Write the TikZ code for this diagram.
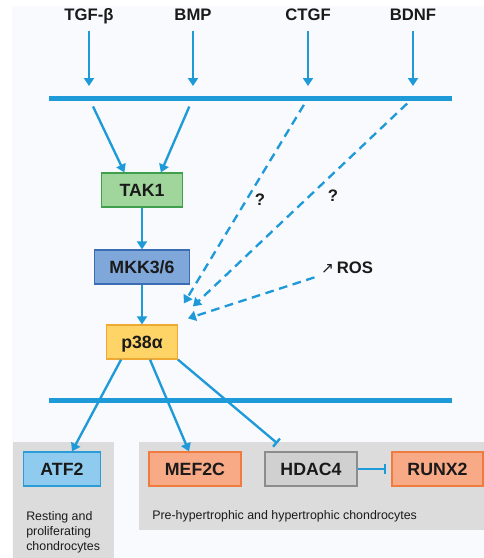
\documentclass[tikz,border=0pt]{standalone}
\usepackage{fontspec}
\setmainfont{Liberation Sans}
\newfontfamily\dejavu{DejaVu Sans}
\usepackage{tikz}
\usetikzlibrary{positioning}
\usetikzlibrary{calc}
\usetikzlibrary{arrows.meta}
\usepackage{xcolor}

\definecolor{sig}{HTML}{1E9AD8}
\definecolor{bgc}{HTML}{F9FAFD}
\definecolor{zone}{HTML}{DCDCDC}
\definecolor{ink}{HTML}{1A1A1A}
\definecolor{takf}{HTML}{A0D59C}
\definecolor{takd}{HTML}{3F9F4C}
\definecolor{mkkf}{HTML}{80A7DA}
\definecolor{mkkd}{HTML}{3A6DB3}
\definecolor{p38f}{HTML}{FFD466}
\definecolor{p38d}{HTML}{EFA832}
\definecolor{atff}{HTML}{8FCBEF}
\definecolor{atfd}{HTML}{2B9CD8}
\definecolor{oraf}{HTML}{F8A985}
\definecolor{orad}{HTML}{EF7B3F}
\definecolor{hdaf}{HTML}{D0D0D0}
\definecolor{hdad}{HTML}{8C8C8C}

\begin{document}
\begin{tikzpicture}[x=0.75pt, y=-0.75pt,
        lbl/.style={text=ink, font=\bfseries\fontsize{12.5}{15}\selectfont, text height=9pt, text depth=2.5pt},
        box/.style={draw, line width=0.9pt, minimum height=25.5pt, inner sep=0pt, text=ink,
            text height=9.5pt, text depth=0pt, font=\bfseries\fontsize{13.3}{15}\selectfont},
        note/.style={text=ink, font=\fontsize{9.3}{11.25}\selectfont, align=left, inner sep=0pt, anchor=north west},
        act/.style={sig, line width=1.75pt, -{Triangle[length=6pt,width=7.5pt]}},
        dsh/.style={act, dash pattern=on 6.5pt off 4.2pt},
        inh/.style={sig, line width=1.75pt, -{Bar[width=8pt,line width=1.75pt]}},
        bar/.style={sig, line width=3.75pt}]
        \useasboundingbox (0,0) rectangle (484,558);
        \fill[bgc] (12,6) rectangle (484,558);
        \fill[zone] (13,442) rectangle (114,558);
        \fill[zone] (139,442) rectangle (484,530);

        \node[lbl] (tgf) at (89,16) {TGF-β};
        \node[lbl] (bmp) at (193,16) {BMP};
        \node[lbl] (ctgf) at (308,16) {CTGF};
        \node[lbl] (bdnf) at (413,16) {BDNF};

        \coordinate (in) at (0,86);
        \coordinate (m1) at (49,98);
        \coordinate (m2) at (452,98);
        \coordinate (n1) at (49,400);
        \coordinate (n2) at (452,400);

        \foreach \s in {tgf,bmp,ctgf,bdnf}
            \draw[act, shorten <=2pt] (\s) -- (\s |- in);
        \draw[bar] (m1) -- (m2);

        \node[box, fill=takf, draw=takd, minimum width=61pt] (tak) at (142,190) {TAK1};
        \node[box, fill=mkkf, draw=mkkd, minimum width=71.5pt] (mkk) at (142,267) {MKK3/6};
        \node[box, fill=p38f, draw=p38d, minimum width=53pt] (p38) at (142,342) {p38α};

        \node[lbl] (q1) at (260,201) {?};
        \node[lbl] (q2) at (333,197) {?};
        \node[lbl] (ros) at (347,269) {{\dejavu\mdseries\fontsize{11.5}{12}\selectfont ↗}\,ROS};

        \draw[act, shorten <=7pt] (tgf |- m1) -- (tak.135);
        \draw[act, shorten <=7pt] (bmp |- m1) -- (tak.43);
        \draw[act] (tak) -- (mkk);
        \draw[act] (mkk) -- (p38);
        \draw[dsh, shorten <=6pt] (ctgf |- m1) -- ($(p38.north east)+(6,-21)$);
        \draw[dsh, shorten <=6pt] (bdnf |- m1) -- ($(p38.north east)+(15,-18)$);
        \draw[dsh] ($(ros.south west)+(-2,-4)$) -- ($(p38.north east)+(10,-6)$);

        \draw[bar] (n1) -- (n2);

        \node[box, fill=atff, draw=atfd, minimum width=58pt] (atf) at (62,469) {ATF2};
        \node[box, fill=oraf, draw=orad, minimum width=69pt] (mef) at (195,469) {MEF2C};
        \node[box, fill=hdaf, draw=hdad, minimum width=69pt] (hdac) at (311,469) {HDAC4};
        \node[box, fill=oraf, draw=orad, minimum width=68.25pt] (runx) at (437.5,469) {RUNX2};

        \draw[act] ($(p38.south west)+(15,0)$) -- ($(atf.north)+(10,0)$);
        \draw[act] ($(p38.south)+(8,0)$) -- ($(mef.north)+(-6,0)$);
        \draw[inh] (p38.south east) -- ($(hdac.north west)+(13,-8)$);
        \draw[inh, shorten >=3.75pt] (hdac) -- (runx);

        \node[note] (rest) at (26,511) {Resting and\\proliferating\\chondrocytes};
        \node[note] (pre) at (152,510) {Pre-hypertrophic and hypertrophic chondrocytes};
\end{tikzpicture}
\end{document}
